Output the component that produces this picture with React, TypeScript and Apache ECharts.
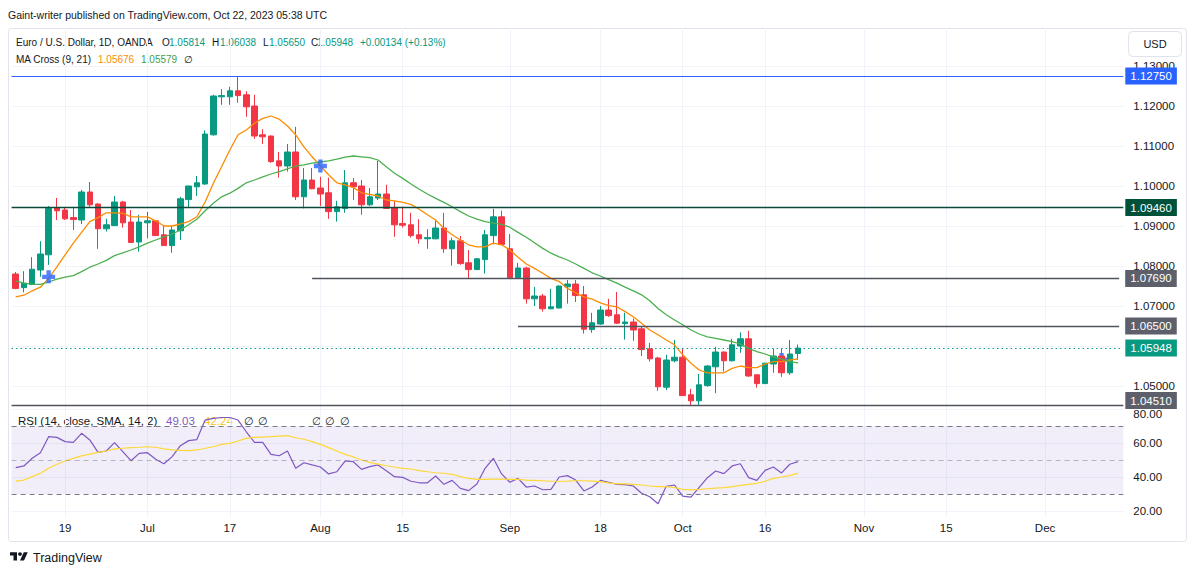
import React, { useEffect, useRef } from 'react';
import * as echarts from 'echarts';

// ---------- categories ----------
const FIRST_DAY = [2023, 5, 9]; // 9 Jun 2023 (month is 0-based)
const CATEGORY_COUNT = 135; // trading days shown incl. empty future space

const xTickLabels: [string, string][] = [
  ['2023-06-19', '19'],
  ['2023-07-03', 'Jul'],
  ['2023-07-17', '17'],
  ['2023-08-01', 'Aug'],
  ['2023-08-15', '15'],
  ['2023-09-01', 'Sep'],
  ['2023-09-18', '18'],
  ['2023-10-02', 'Oct'],
  ['2023-10-16', '16'],
  ['2023-11-01', 'Nov'],
  ['2023-11-15', '15'],
  ['2023-12-01', 'Dec'],
];

// ---------- candles (EURUSD 1D) ----------
const opens = [
  1.0780, 1.0746, 1.0754, 1.0790, 1.0828, 1.0945, 1.0940, 1.0921, 1.0915, 1.0985,
  1.0955, 1.0893, 1.0901, 1.0960, 1.0910, 1.0860, 1.0908, 1.0913, 1.0878, 1.0851,
  1.0888, 1.0966, 1.0998, 1.1005, 1.1128, 1.1223, 1.1223, 1.1238, 1.1228, 1.1200,
  1.1128, 1.1125, 1.1063, 1.1050, 1.1085, 1.0973, 1.1015, 1.0995, 1.0983, 1.0936,
  1.0944, 1.1008, 1.1000, 1.0953, 1.0970, 1.0980, 1.0945, 1.0906, 1.0903, 1.0878,
  1.0868, 1.0868, 1.0895, 1.0843, 1.0863, 1.0808, 1.0791, 1.0816, 1.0876, 1.0923,
  1.0843, 1.0771, 1.0795, 1.0718, 1.0725, 1.0693, 1.0695, 1.0748, 1.0755, 1.0728,
  1.0641, 1.0655, 1.0690, 1.0678, 1.0656, 1.0660, 1.0643, 1.0593, 1.0570, 1.0497,
  1.0563, 1.0572, 1.0478, 1.0463, 1.0501, 1.0548, 1.0585, 1.0563, 1.0600, 1.0618,
  1.0528, 1.0506, 1.0555, 1.0575, 1.0533, 1.05814,
];
const highs = [
  1.0785, 1.0787, 1.0822, 1.0862, 1.0950, 1.0970, 1.0945, 1.0945, 1.0990, 1.1010,
  1.0957, 1.0918, 1.0975, 1.0963, 1.0940, 1.0928, 1.0935, 1.0915, 1.0900, 1.0900,
  1.0973, 1.1001, 1.1025, 1.1139, 1.1228, 1.1242, 1.1248, 1.1275, 1.1237, 1.1228,
  1.1142, 1.1126, 1.1085, 1.1105, 1.1148, 1.1045, 1.1045, 1.1023, 1.1021, 1.0963,
  1.1040, 1.1020, 1.1015, 1.0995, 1.1063, 1.1003, 1.0962, 1.0948, 1.0933, 1.0917,
  1.0892, 1.0913, 1.0933, 1.0871, 1.0875, 1.0840, 1.0820, 1.0890, 1.0943, 1.0938,
  1.0880, 1.0808, 1.0798, 1.0748, 1.0730, 1.0743, 1.0751, 1.0765, 1.0765, 1.0750,
  1.0683, 1.0700, 1.0718, 1.0735, 1.0683, 1.0669, 1.0648, 1.0608, 1.0573, 1.0578,
  1.0615, 1.0594, 1.0493, 1.0530, 1.0552, 1.0598, 1.0586, 1.0618, 1.0634, 1.0638,
  1.0528, 1.0558, 1.0593, 1.0593, 1.0615, 1.06038,
];
const lows = [
  1.0742, 1.0734, 1.0752, 1.0773, 1.0803, 1.0915, 1.0915, 1.0890, 1.0905, 1.0948,
  1.0843, 1.0886, 1.0900, 1.0896, 1.0858, 1.0836, 1.0869, 1.0875, 1.0850, 1.0833,
  1.0865, 1.0945, 1.0975, 1.1003, 1.1126, 1.1203, 1.1203, 1.1208, 1.1173, 1.1118,
  1.1105, 1.1058, 1.1021, 1.1036, 1.0965, 1.0944, 1.0992, 1.0950, 1.0918, 1.0911,
  1.0933, 1.0965, 1.0928, 1.0950, 1.0965, 1.0943, 1.0873, 1.0896, 1.0871, 1.0856,
  1.0843, 1.0867, 1.0833, 1.0801, 1.0803, 1.0768, 1.0790, 1.0781, 1.0854, 1.0852,
  1.0770, 1.0770, 1.0706, 1.0700, 1.0686, 1.0692, 1.0694, 1.0706, 1.0710, 1.0631,
  1.0633, 1.0653, 1.0673, 1.0655, 1.0616, 1.0613, 1.0575, 1.0561, 1.0488, 1.0490,
  1.0559, 1.0475, 1.0452, 1.0452, 1.0498, 1.0482, 1.0536, 1.0561, 1.0583, 1.0523,
  1.0496, 1.0505, 1.0533, 1.0523, 1.0528, 1.05650,
];
const closes = [
  1.0744, 1.0757, 1.0792, 1.0830, 1.0944, 1.0938, 1.0918, 1.0916, 1.0985, 1.0953,
  1.0893, 1.0903, 1.0960, 1.0908, 1.0859, 1.0910, 1.0913, 1.0876, 1.0851, 1.0890,
  1.0968, 1.1000, 1.1008, 1.1130, 1.1225, 1.1226, 1.1238, 1.1226, 1.1198, 1.1125,
  1.1123, 1.1061, 1.1050, 1.1085, 1.0973, 1.1015, 1.0993, 1.0980, 1.0936, 1.0948,
  1.1008, 1.0998, 1.0953, 1.0973, 1.0980, 1.0944, 1.0903, 1.0902, 1.0876, 1.0868,
  1.0871, 1.0895, 1.0843, 1.0863, 1.0806, 1.0791, 1.0818, 1.0878, 1.0923, 1.0854,
  1.0771, 1.0795, 1.0718, 1.0725, 1.0693, 1.0698, 1.0750, 1.0755, 1.0726, 1.0642,
  1.0658, 1.0690, 1.0676, 1.0657, 1.0660, 1.0640, 1.0591, 1.0568, 1.0498, 1.0565,
  1.0572, 1.0476, 1.0463, 1.0503, 1.0550, 1.0585, 1.0563, 1.0603, 1.0618, 1.0525,
  1.0506, 1.0557, 1.0575, 1.0533, 1.0580, 1.05948,
];

// ---------- MA Cross (9, 21) ----------
const ma9 = [
  1.0723, 1.0727, 1.0738, 1.0747, 1.0769, 1.0798, 1.0828, 1.0857, 1.0884, 1.0911,
  1.0921, 1.0933, 1.0933, 1.0932, 1.0923, 1.0923, 1.0923, 1.0913, 1.0900, 1.0900,
  1.0905, 1.0911, 1.0923, 1.0960, 1.1007, 1.1048, 1.1090, 1.1128, 1.1140, 1.1157,
  1.1169, 1.1175, 1.1167, 1.1150, 1.1128, 1.1098, 1.1073, 1.1050, 1.1028, 1.1008,
  1.1003, 1.0996, 1.0983, 1.0979, 1.0975, 1.0965, 1.0963, 1.0959, 1.0954, 1.0942,
  1.0928, 1.0915, 1.0894, 1.0878, 1.0865, 1.0853, 1.0848, 1.0848, 1.0857, 1.0853,
  1.0840, 1.0822, 1.0805, 1.0794, 1.0782, 1.0769, 1.0761, 1.0744, 1.0733, 1.0723,
  1.0717, 1.0708, 1.0701, 1.0698, 1.0686, 1.0673, 1.0657, 1.0640, 1.0628, 1.0615,
  1.0603, 1.0578, 1.0557, 1.0540, 1.0533, 1.0533, 1.0533, 1.0544, 1.0550, 1.0546,
  1.0546, 1.0555, 1.0561, 1.0561, 1.0565, 1.05676,
];
const ma21 = [
  1.0763, 1.0757, 1.0754, 1.0754, 1.0760, 1.0767, 1.0772, 1.0776, 1.0786, 1.0797,
  1.0805, 1.0814, 1.0826, 1.0833, 1.0840, 1.0848, 1.0857, 1.0865, 1.0873, 1.0880,
  1.0890, 1.0903, 1.0917, 1.0938, 1.0957, 1.0973, 1.0982, 1.0994, 1.1008, 1.1015,
  1.1023, 1.1030, 1.1036, 1.1043, 1.1050, 1.1053, 1.1057, 1.1060, 1.1063, 1.1067,
  1.1072, 1.1075, 1.1073, 1.1071, 1.1065, 1.1048, 1.1032, 1.1019, 1.1005, 1.0992,
  1.0980, 1.0969, 1.0959, 1.0948, 1.0936, 1.0925, 1.0917, 1.0911, 1.0907, 1.0904,
  1.0897, 1.0884, 1.0872, 1.0858, 1.0844, 1.0832, 1.0823, 1.0815, 1.0805, 1.0794,
  1.0783, 1.0775, 1.0766, 1.0757, 1.0747, 1.0738, 1.0728, 1.0713, 1.0694, 1.0678,
  1.0665, 1.0653, 1.0640, 1.0630, 1.0623, 1.0619, 1.0615, 1.0611, 1.0605, 1.0594,
  1.0586, 1.0580, 1.0573, 1.0567, 1.0561, 1.05579,
];
const crossIdx = [4, 37];
const crossPrice = [1.0773, 1.1050];
const crossBehindIdx = [93];
const crossBehindPrice = [1.0566];

// ---------- RSI (14, close, SMA 14) ----------
const rsi = [
  45.5, 46.5, 51.0, 54.3, 63.7, 63.3, 60.8, 60.4, 65.7, 61.8,
  54.5, 55.3, 60.2, 54.9, 49.6, 53.9, 54.3, 50.4, 47.8, 52.0,
  58.4, 61.4, 62.0, 73.5, 74.5, 75.0, 75.0, 73.5, 66.6, 60.4,
  60.4, 53.3, 52.5, 55.3, 45.1, 48.4, 47.1, 45.9, 41.8, 43.1,
  49.4, 49.0, 44.5, 46.1, 47.1, 43.7, 40.2, 39.8, 37.5, 36.6,
  36.6, 40.6, 35.7, 38.0, 33.3, 32.0, 35.9, 45.1, 51.0, 41.8,
  36.9, 39.2, 34.1, 34.7, 32.5, 32.7, 40.0, 40.8, 38.2, 31.8,
  34.1, 38.0, 36.9, 35.7, 35.5, 34.7, 30.4, 28.4, 24.3, 34.5,
  35.3, 28.8, 28.2, 33.9, 39.6, 43.5, 42.0, 46.5, 47.8, 39.6,
  38.0, 43.9, 45.9, 42.4, 47.5, 49.03,
];
const rsiSma = [
  37.6, 38.2, 40.2, 42.2, 45.1, 47.5, 49.4, 51.0, 52.4, 53.5,
  54.5, 55.3, 56.5, 56.9, 57.3, 57.5, 57.8, 57.5, 56.5, 55.9,
  55.7, 55.5, 55.9, 56.9, 57.8, 59.2, 59.8, 61.2, 62.7, 63.3,
  63.5, 63.7, 64.1, 64.3, 63.1, 62.2, 60.8, 59.2, 57.3, 55.3,
  53.3, 51.8, 50.0, 48.6, 47.6, 46.6, 45.9, 45.1, 44.7, 43.7,
  43.1, 42.5, 42.2, 41.6, 40.2, 39.2, 38.6, 38.6, 38.8, 38.8,
  38.6, 38.6, 38.2, 38.0, 37.8, 37.5, 37.5, 37.6, 37.8, 37.8,
  37.6, 37.3, 36.5, 35.9, 35.9, 35.7, 35.3, 34.7, 34.3, 34.3,
  33.7, 32.7, 32.4, 32.7, 33.1, 33.5, 33.7, 34.3, 35.1, 35.7,
  36.3, 37.5, 39.2, 40.0, 40.8, 42.24,
];
const rsiBand = [30, 70];
const rsiMid = 50;

// ---------- horizontal levels ----------
const levelPrices = [1.1275, 1.0946, 1.0769, 1.0650, 1.0451];
const levelStartIdx: (number | null)[] = [null, null, 36, 61, null];
const lastPrice = 1.05948;
const hiddenPriceTick = 1.06; // covered by the last-price label in the reference

// ---------- layout ----------
const W = 1195;
const H = 577;
const BAND = 8.235;
const GRID_LEFT = 11.58;
const GRID_RIGHT = W - GRID_LEFT - CATEGORY_COUNT * BAND;
const FONT = "'Liberation Sans', Arial, sans-serif";
const TXT = '#131722';
const UP = '#089981';
const DOWN = '#f23645';
const GRIDC = '#f0f3fa';

function buildDates(): string[] {
  const out: string[] = [];
  const d = new Date(Date.UTC(FIRST_DAY[0], FIRST_DAY[1], FIRST_DAY[2]));
  while (out.length < CATEGORY_COUNT) {
    const wd = d.getUTCDay();
    if (wd !== 0 && wd !== 6) out.push(d.toISOString().slice(0, 10));
    d.setUTCDate(d.getUTCDate() + 1);
  }
  return out;
}

const LOGO_D = 'M14 22H7V11H0V4h14v18zM28 22h-8l7.5-18h8L28 22zM24 8a4 4 0 1 1-8 0a4 4 0 1 1 8 0z';
let logoRegistered = false;

export default function App() {
  const ref = useRef<HTMLDivElement>(null);
  useEffect(() => {
    document.body.style.margin = '0';
    if (!logoRegistered) {
      echarts.graphic.registerShape('tvlogo', echarts.graphic.extendPath(LOGO_D, {}));
      logoRegistered = true;
    }
    const chart = echarts.init(ref.current!, undefined, { renderer: 'svg', width: W, height: H });
    const dates = buildDates();
    const tickMap: Record<string, string> = {};
    xTickLabels.forEach(([d, l]) => (tickMap[d] = l));
    const showTick = (_i: number, v: string) => tickMap[v] !== undefined;

    const candles = opens.map((o, i) => [o, closes[i], lows[i], highs[i]]);

    const levelLineColors = ['#2962ff', '#0b4a3a', '#50535e', '#50535e', '#50535e'];
    const levelLabelBg = ['#2962ff', '#00513a', '#5d606b', '#5d606b', '#5d606b'];
    const lblBase = {
      show: true,
      position: 'end',
      color: '#ffffff',
      fontSize: 11.5,
      fontFamily: FONT,
      padding: [3, 5, 2, 5],
    };
    const levelData: any[] = levelPrices.map((p, i) => {
      const label: any = {
        ...lblBase,
        formatter: p.toFixed(5),
        backgroundColor: levelLabelBg[i],
        distance: levelStartIdx[i] === null ? 2 : 6,
      };
      if (i === levelPrices.length - 1) label.offset = [0, -5];
      const lineStyle = {
        color: levelLineColors[i],
        width: i === 0 ? 1 : 1.4,
        type: 'solid',
      };
      const s = levelStartIdx[i];
      if (s === null) return { yAxis: p, label, lineStyle };
      return [
        { coord: [dates[s], p], label, lineStyle },
        { coord: [dates[CATEGORY_COUNT - 1], p] },
      ];
    });
    levelData.push({
      yAxis: lastPrice,
      label: { ...lblBase, formatter: lastPrice.toFixed(5), backgroundColor: UP, distance: 2 },
      lineStyle: { color: UP, width: 1, type: [1.5, 3] },
    });

    const cross = 'path://M4,0H8V4H12V8H8V12H4V8H0V4H4Z';

    const text = (x: number, y: number, t: string, fill: string, size = 10, align = 'left') => ({
      type: 'text',
      x,
      y,
      silent: true,
      style: {
        text: t,
        fill,
        font: `${size}px ${FONT}`,
        textAlign: align,
        textVerticalAlign: 'middle',
        align,
        verticalAlign: 'middle',
      },
    });

    const option: any = {
      animation: false,
      backgroundColor: '#ffffff',
      grid: [
        { left: GRID_LEFT, right: GRID_RIGHT, top: 26, height: 400 },
        { left: GRID_LEFT, right: GRID_RIGHT, top: 375, height: 170 },
        { left: 15.7, right: W - 15.7 - (CATEGORY_COUNT - 1) * BAND, top: 28, bottom: H - 517 },
      ],
      xAxis: [
        { type: 'category', gridIndex: 0, data: dates, boundaryGap: true, show: false },
        { type: 'category', gridIndex: 1, data: dates, boundaryGap: true, show: false },
        {
          type: 'category',
          gridIndex: 2,
          data: dates,
          boundaryGap: false,
          axisLine: { show: false },
          axisTick: { show: false },
          axisLabel: {
            interval: showTick,
            formatter: (v: string) => tickMap[v] ?? '',
            color: TXT,
            fontSize: 11.5,
            fontFamily: FONT,
            margin: 5,
          },
          splitLine: { show: true, interval: showTick, lineStyle: { color: GRIDC, width: 1 } },
        },
      ],
      yAxis: [
        {
          type: 'value',
          gridIndex: 0,
          position: 'right',
          min: 1.04,
          max: 1.14,
          interval: 0.01,
          axisLine: { show: false },
          axisTick: { show: false },
          axisLabel: {
            formatter: (v: number) => (Math.abs(v - hiddenPriceTick) < 1e-6 ? '' : v.toFixed(5)),
            showMinLabel: false,
            showMaxLabel: false,
            color: TXT,
            fontSize: 11.5,
            fontFamily: FONT,
            margin: 10,
          },
          splitLine: { show: true, showMinLine: false, showMaxLine: false, lineStyle: { color: GRIDC } },
        },
        {
          type: 'value',
          gridIndex: 1,
          position: 'right',
          min: 0,
          max: 100,
          interval: 20,
          axisLine: { show: false },
          axisTick: { show: false },
          axisLabel: {
            formatter: (v: number) => (v === 80 ? '{low|' + v.toFixed(2) + '}' : v.toFixed(2)),
            rich: { low: { padding: [9, 0, 0, 0], color: TXT, fontSize: 11.5, fontFamily: FONT } },
            showMinLabel: false,
            showMaxLabel: false,
            color: TXT,
            fontSize: 11.5,
            fontFamily: FONT,
            margin: 10,
          },
          splitLine: { show: true, showMinLine: false, showMaxLine: false, lineStyle: { color: GRIDC } },
        },
        { type: 'value', gridIndex: 2, min: 0, max: 1, show: false },
      ],
      series: [
        {
          type: 'scatter',
          xAxisIndex: 0,
          yAxisIndex: 0,
          symbol: cross,
          symbolSize: 13,
          itemStyle: { color: '#2962ff' },
          data: crossBehindIdx.map((i, k) => [dates[i], crossBehindPrice[k]]),
          silent: true,
        },
        {
          type: 'candlestick',
          xAxisIndex: 0,
          yAxisIndex: 0,
          barWidth: 6,
          data: candles,
          itemStyle: { color: UP, color0: DOWN, borderColor: UP, borderColor0: DOWN, borderWidth: 1 },
          markLine: { silent: true, precision: 5, symbol: ['none', 'none'], data: levelData },
        },
        {
          type: 'line',
          xAxisIndex: 0,
          yAxisIndex: 0,
          data: ma9,
          symbol: 'none',
          lineStyle: { color: '#fb8c00', width: 1.3 },
          silent: true,
        },
        {
          type: 'line',
          xAxisIndex: 0,
          yAxisIndex: 0,
          data: ma21,
          symbol: 'none',
          lineStyle: { color: '#4caf50', width: 1.3 },
          silent: true,
        },
        {
          type: 'scatter',
          xAxisIndex: 0,
          yAxisIndex: 0,
          symbol: cross,
          symbolSize: 13,
          itemStyle: { color: '#2962ff' },
          data: crossIdx.map((i, k) => [dates[i], crossPrice[k]]),
          silent: true,
          z: 5,
        },
        {
          type: 'line',
          xAxisIndex: 1,
          yAxisIndex: 1,
          data: rsi,
          symbol: 'none',
          lineStyle: { color: '#7e57c2', width: 1.2 },
          silent: true,
          markArea: {
            silent: true,
            itemStyle: { color: 'rgba(126,87,194,0.1)' },
            data: [[{ yAxis: rsiBand[0] }, { yAxis: rsiBand[1] }]],
          },
          markLine: {
            silent: true,
            symbol: ['none', 'none'],
            label: { show: false },
            data: [
              { yAxis: rsiBand[1], lineStyle: { color: '#787b86', type: [5, 4], width: 1 } },
              { yAxis: rsiMid, lineStyle: { color: 'rgba(120,123,134,0.5)', type: [5, 4], width: 1 } },
              { yAxis: rsiBand[0], lineStyle: { color: '#787b86', type: [5, 4], width: 1 } },
            ],
          },
        },
        {
          type: 'line',
          xAxisIndex: 1,
          yAxisIndex: 1,
          data: rsiSma,
          symbol: 'none',
          lineStyle: { color: '#fdd835', width: 1.2 },
          silent: true,
        },
      ],
      graphic: [
        {
          type: 'rect',
          silent: true,
          z: -10,
          shape: { x: 8.5, y: 28.5, width: 1178, height: 513, r: 3 },
          style: { fill: 'none', stroke: '#e0e3eb', lineWidth: 1 },
        },
        text(8, 15, 'Gaint-writer published on TradingView.com, Oct 22, 2023 05:38 UTC', TXT, 10.5),
        text(16, 42, 'Euro / U.S. Dollar, 1D, OANDA', TXT),
        text(162, 42, 'O', TXT),
        text(169, 42, '1.05814', UP),
        text(212, 42, 'H', TXT),
        text(220, 42, '1.06038', UP),
        text(263, 42, 'L', TXT),
        text(269, 42, '1.05650', UP),
        text(311, 42, 'C', TXT),
        text(317, 42, '1.05948', UP),
        text(360, 42, '+0.00134 (+0.13%)', UP),
        text(16, 59, 'MA Cross (9, 21)', TXT),
        text(98, 59, '1.05676', '#fb8c00'),
        text(141, 59, '1.05579', '#43a047'),
        text(184, 59, '∅', TXT),
        {
          type: 'rect',
          silent: true,
          shape: { x: 1128.5, y: 31.5, width: 53, height: 25, r: 4 },
          style: { fill: '#ffffff', stroke: '#e0e3eb', lineWidth: 1 },
        },
        text(1155, 44, 'USD', TXT, 11, 'center'),
        text(18, 421, 'RSI (14, close, SMA, 14, 2)', TXT, 11.5),
        text(166, 421, '49.03', '#7e57c2', 11.5),
        text(204, 421, '42.24', '#f9c513', 11.5),
        text(244, 421, '∅', TXT, 11),
        text(258, 421, '∅', TXT, 11),
        text(312, 421, '∅', TXT, 11),
        text(325, 421, '∅', TXT, 11),
        text(340, 421, '∅', TXT, 11),
        {
          type: 'tvlogo',
          x: 10,
          y: 550.5,
          scaleX: 0.5,
          scaleY: 0.45,
          silent: true,
          style: { fill: TXT },
        },
        text(33, 557.5, 'TradingView', TXT, 12.5),
      ],
    };
    chart.setOption(option);
    return () => chart.dispose();
  }, []);
  return <div ref={ref} style={{ width: W, height: H }} />;
}
